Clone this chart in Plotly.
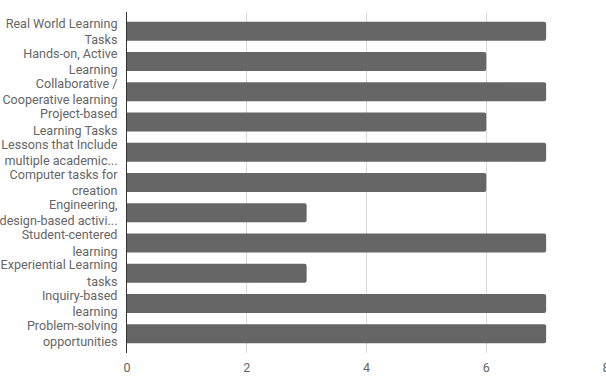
import plotly.graph_objects as go

categories = [
    "Real World Learning<br>Tasks",
    "Hands-on, Active<br>Learning",
    "Collaborative /<br>Cooperative learning",
    "Project-based<br>Learning Tasks",
    "Lessons that Include<br>multiple academic...",
    "Computer tasks for<br>creation",
    "Engineering,<br>design-based activi...",
    "Student-centered<br>learning",
    "Experiential Learning<br>tasks",
    "Inquiry-based<br>learning",
    "Problem-solving<br>opportunities",
]
values = [7, 6, 7, 6, 7, 6, 3, 7, 3, 7, 7]
x_ticks = [0, 2, 4, 6, 8]

fig = go.Figure(go.Bar(
    x=values, y=categories, orientation="h",
    marker=dict(color="#666666", line=dict(width=0), cornerradius=2),
    width=0.63,
))

fig.update_layout(
    width=606, height=385,
    margin=dict(l=127, r=0, t=12, b=32, autoexpand=False),
    paper_bgcolor="white", plot_bgcolor="white",
    font=dict(family="Roboto", size=12.6, color="#666666"),
    showlegend=False,
)
fig.update_xaxes(
    range=[0, 8], tickvals=x_ticks, ticktext=[str(t) for t in x_ticks],
    showgrid=True, gridcolor="#d9d9d9", gridwidth=1,
    zeroline=False, showline=False, ticks="",
    ticklabelstandoff=5, ticklabeloverflow="allow", automargin=False,
)
fig.update_yaxes(
    categoryorder="array", categoryarray=categories,
    range=[10.64, -0.64],
    showgrid=False, zeroline=False,
    showline=True, linecolor="#333333", linewidth=1,
    ticks="", ticklabelstandoff=6, automargin=False,
)

fig.write_html("out.html")
